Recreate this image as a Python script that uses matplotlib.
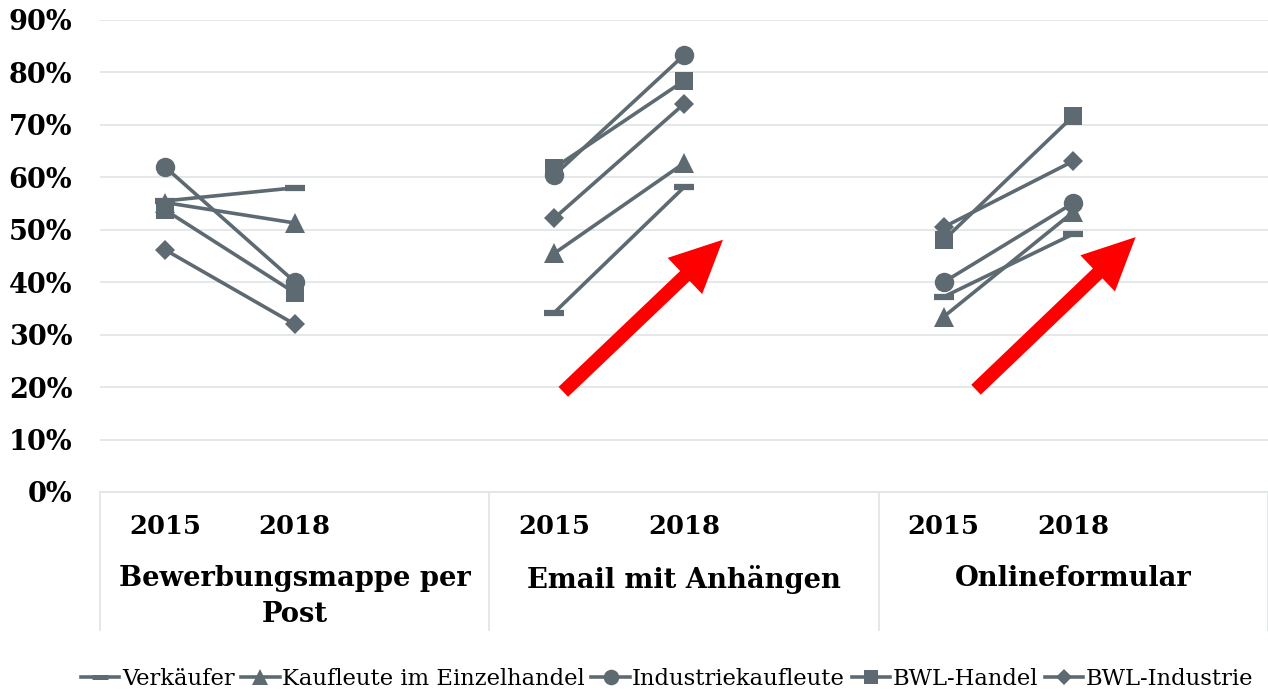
import matplotlib
matplotlib.use("Agg")
import matplotlib.pyplot as plt
from matplotlib.lines import Line2D
import matplotlib.transforms as mtransforms

# ---------------- data ----------------
groups = ["Bewerbungsmappe per\nPost", "Email mit Anhängen", "Onlineformular"]
years = ["2015", "2018"]
series_names = ["Verkäufer", "Kaufleute im Einzelhandel", "Industriekaufleute",
                "BWL-Handel", "BWL-Industrie"]
# values per series: [group1 2015, group1 2018, group2 2015, group2 2018, group3 2015, group3 2018]
verkaeufer = [0.555, 0.58, 0.342, 0.581, 0.372, 0.492]
kaufleute = [0.552, 0.513, 0.455, 0.627, 0.334, 0.534]
industriekaufleute = [0.62, 0.401, 0.604, 0.833, 0.40, 0.551]
bwl_handel = [0.538, 0.38, 0.618, 0.784, 0.48, 0.717]
bwl_industrie = [0.462, 0.32, 0.522, 0.74, 0.505, 0.631]
yticks = [0, 0.1, 0.2, 0.3, 0.4, 0.5, 0.6, 0.7, 0.8, 0.9]
ytick_labels = ["0%", "10%", "20%", "30%", "40%", "50%", "60%", "70%", "80%", "90%"]
# red trend arrows (tail x, tail y, head x, head y) in data units
arrow_tails = [(3.07, 0.191), (6.25, 0.195)]
arrow_heads = [(4.30, 0.481), (7.48, 0.486)]

series_values = [verkaeufer, kaufleute, industriekaufleute, bwl_handel, bwl_industrie]
markers = ["_", "^", "o", "s", "D"]
msizes = [15, 14, 14, 13, 10]
mews = [4.5, 0, 0, 0, 0]

color = "#5e6a72"
grid_color = "#e3e6e6"
serif_bold = dict(family="DejaVu Serif", weight="bold")

fig = plt.figure(figsize=(12.68, 6.93), dpi=100)
ax = fig.add_axes([100 / 1268, 1 - 492 / 693, 1 - 100 / 1268, (492 - 20) / 693])

slots_per_group = 3
for vals, m, ms, mew in zip(series_values, markers, msizes, mews):
    for g in range(len(groups)):
        xs = [g * slots_per_group + i for i in range(len(years))]
        ys = vals[g * 2: g * 2 + 2]
        ax.plot(xs, ys, color=color, lw=2.6, marker=m, markersize=ms,
                markeredgewidth=mew, markeredgecolor=color, markerfacecolor=color,
                zorder=3, clip_on=False)

for (tx, ty), (hx, hy) in zip(arrow_tails, arrow_heads):
    ax.annotate("", xy=(hx, hy), xytext=(tx, ty),
                arrowprops=dict(arrowstyle="simple,head_width=2.0,tail_width=0.55,head_length=2.1",
                                color="#ff0000", lw=0, shrinkA=0, shrinkB=0, mutation_scale=18),
                zorder=4)

ax.set_xlim(-0.5, len(groups) * slots_per_group - 0.5)
ax.set_ylim(0, 0.9)
ax.set_yticks(yticks)
ax.set_yticklabels(ytick_labels, fontsize=19.5, **serif_bold)
ax.tick_params(axis="y", length=0, pad=20)
ax.set_xticks([])
ax.grid(axis="y", color=grid_color, lw=1.3)
ax.set_axisbelow(True)
for s in ["top", "right", "left"]:
    ax.spines[s].set_visible(False)
ax.spines["bottom"].set_color(grid_color)
ax.spines["bottom"].set_linewidth(1.3)

trans = mtransforms.blended_transform_factory(ax.transData, ax.transAxes)
axh = (492 - 20)
for g, name in enumerate(groups):
    for i, y in enumerate(years):
        ax.text(g * slots_per_group + i, -35 / axh, y, transform=trans, ha="center", va="center",
                fontsize=18.5, **serif_bold)
    ax.text(g * slots_per_group + 1, -73 / axh, name, transform=trans, ha="center", va="top",
            fontsize=19.7, linespacing=1.42, **serif_bold)
for k in range(len(groups) + 1):
    ax.plot([k * slots_per_group - 0.5] * 2, [0, -138 / axh], transform=trans, color=grid_color,
            lw=1.3, clip_on=False)

handles = [Line2D([0], [0], color=color, lw=2.6, marker=m, markersize=ms * 0.8,
                  markeredgewidth=mew * 0.8, markeredgecolor=color, markerfacecolor=color)
           for m, ms, mew in zip(markers, msizes, mews)]
fig.legend(handles, series_names, loc="center", bbox_to_anchor=(0.526, 1 - 679 / 693), ncol=5,
           frameon=False, prop=dict(family="DejaVu Serif", size=16.3), handlelength=1.7,
           handletextpad=0.1, columnspacing=0.3, borderaxespad=0)

fig.savefig("out.png", dpi=100)
